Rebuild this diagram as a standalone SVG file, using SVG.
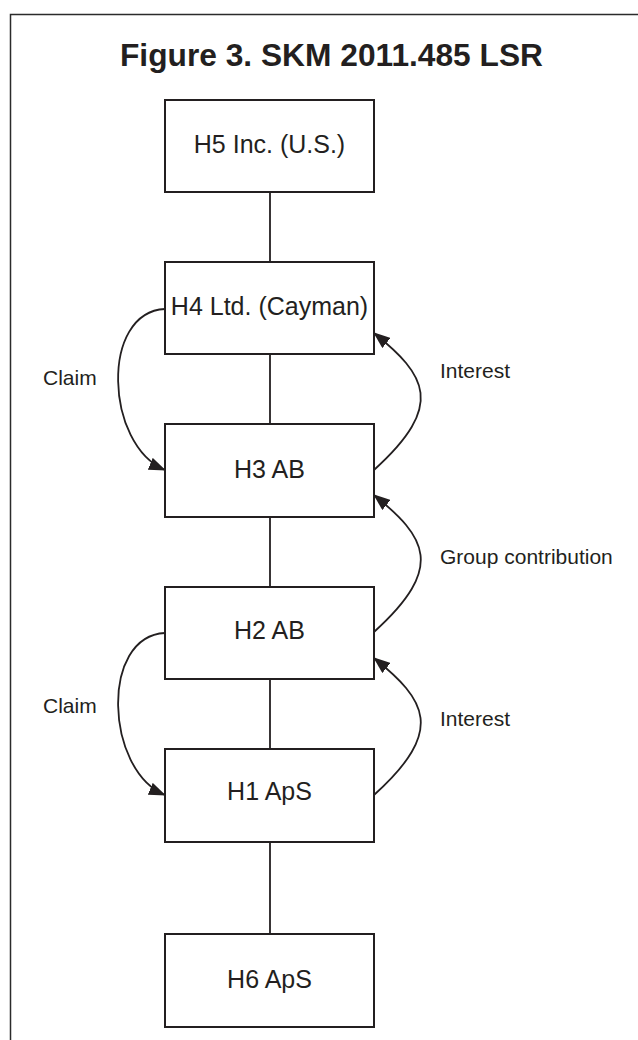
<svg xmlns="http://www.w3.org/2000/svg" width="638" height="1040" viewBox="0 0 638 1040">
<style>
.frame{fill:none;stroke:#2b2b2b;stroke-width:1.5}
.box{fill:#fff;stroke:#231f20;stroke-width:2}
.lbl{font-family:"Liberation Sans",Arial,sans-serif;font-size:25px;fill:#231f20;text-anchor:middle}
.note{font-family:"Liberation Sans",Arial,sans-serif;font-size:21px;fill:#231f20}
.title{font-family:"Liberation Sans",Arial,sans-serif;font-size:31px;font-weight:bold;fill:#231f20}
.link{fill:none;stroke:#231f20;stroke-width:1.8}
.arr{fill:none;stroke:#231f20;stroke-width:1.8;marker-end:url(#ah)}
</style>
<defs>
<marker id="ah" markerWidth="17" markerHeight="13" refX="16" refY="6.5" orient="auto" markerUnits="userSpaceOnUse">
<path d="M0,0 L17,6.5 L0,13 Z" fill="#231f20"/>
</marker>
</defs>
<rect width="638" height="1040" fill="#fff"/>
<path class="frame" d="M10.5,1040 L10.5,14.5 L638,14.5"/>
<text class="title" x="120" y="66" textLength="423" lengthAdjust="spacingAndGlyphs">Figure 3. SKM 2011.485 LSR</text>
<g id="connectors">
<line class="link" x1="270" y1="192" x2="270" y2="262"/>
<line class="link" x1="270" y1="354" x2="270" y2="424"/>
<line class="link" x1="270" y1="517" x2="270" y2="587"/>
<line class="link" x1="270" y1="679" x2="270" y2="749"/>
<line class="link" x1="270" y1="842" x2="270" y2="934"/>
<path class="arr" d="M165,309 C100,312 105,445 165,470"/>
<path class="arr" d="M374,470 C446,405 426,375 374,333"/>
<path class="arr" d="M374,632 C446,567 426,537 374,495"/>
<path class="arr" d="M165,633 C100,636 105,770 165,795"/>
<path class="arr" d="M374,795 C446,730 426,700 374,658"/>
<text class="note" x="43" y="385">Claim</text>
<text class="note" x="440" y="378">Interest</text>
<text class="note" x="440" y="564">Group contribution</text>
<text class="note" x="43" y="713">Claim</text>
<text class="note" x="440" y="726">Interest</text>
</g>
<g id="h5"><rect class="box" x="165" y="100" width="209" height="92"/><text class="lbl" x="269.5" y="153">H5 Inc. (U.S.)</text></g>
<g id="h4"><rect class="box" x="165" y="262" width="209" height="92"/><text class="lbl" x="269.5" y="315">H4 Ltd. (Cayman)</text></g>
<g id="h3"><rect class="box" x="165" y="424" width="209" height="93"/><text class="lbl" x="269.5" y="478">H3 AB</text></g>
<g id="h2"><rect class="box" x="165" y="587" width="209" height="92"/><text class="lbl" x="269.5" y="639">H2 AB</text></g>
<g id="h1"><rect class="box" x="165" y="749" width="209" height="93"/><text class="lbl" x="269.5" y="800">H1 ApS</text></g>
<g id="h6"><rect class="box" x="165" y="934" width="209" height="93"/><text class="lbl" x="269.5" y="988">H6 ApS</text></g>
</svg>
